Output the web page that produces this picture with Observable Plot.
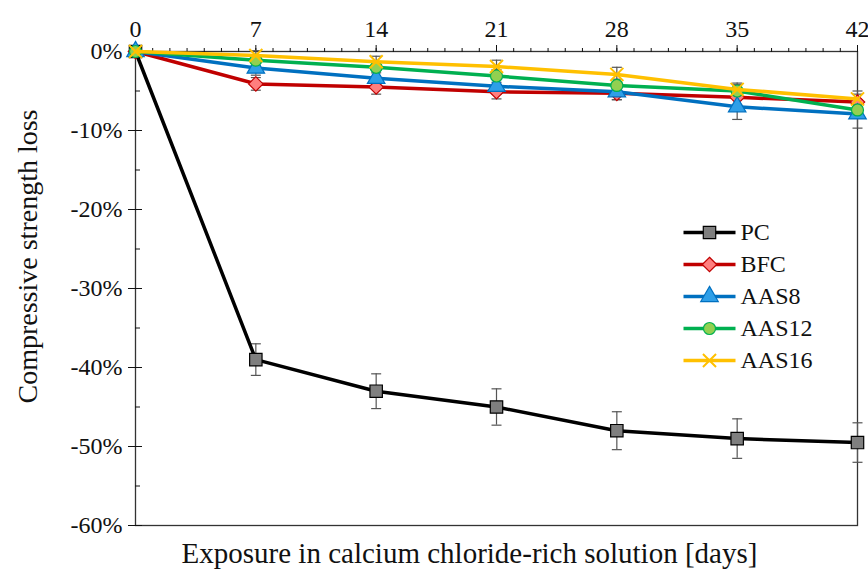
<!DOCTYPE html>
<html><head><meta charset="utf-8">
<script src="https://cdn.jsdelivr.net/npm/d3@7"></script>
<script src="https://cdn.jsdelivr.net/npm/@observablehq/plot@0.6"></script>
<style>
body{margin:0;background:#fff}
#chart svg, #chart svg text { font-family: "Liberation Serif", "Times New Roman", serif !important; }
</style>
</head><body><div id="chart"></div>
<script>
// ---- data ----
const days = [0, 7, 14, 21, 28, 35, 42];
const seriesNames = ["PC", "BFC", "AAS8", "AAS12", "AAS16"];
const pc      = [0, -39.0, -43.0, -45.0, -48.0, -49.0, -49.5];
const pcErr   = [0, 2.0, 2.2, 2.3, 2.4, 2.5, 2.5];
const bfc     = [0, -4.1, -4.5, -5.1, -5.3, -5.8, -6.4];
const bfcErr  = [0, 0.8, 0.9, 0.9, 0.8, 0.9, 1.0];
const aas8    = [0, -2.1, -3.4, -4.4, -5.1, -7.0, -7.9];
const aas8Err = [0, 0.9, 1.0, 1.0, 1.0, 1.6, 1.8];
const aas12   = [0, -1.1, -2.0, -3.1, -4.3, -5.0, -7.4];
const aas12Err= [0, 0.7, 0.7, 0.8, 0.8, 0.8, 1.0];
const aas16   = [0, -0.5, -1.3, -1.9, -2.9, -4.8, -6.0];
const aas16Err= [0, 0.6, 0.7, 0.8, 0.9, 0.8, 1.0];
const xTicks = [0, 7, 14, 21, 28, 35, 42];
const yTicks = [0, -10, -20, -30, -40, -50, -60];
const yMinorTicks = [-5, -15, -25, -35, -45, -55];
const xLabel = "Exposure in calcium chloride-rich solution [days]";
const yLabel = "Compressive strength loss";

// ---- styles ----
const values = [pc, bfc, aas8, aas12, aas16];
const errs = [pcErr, bfcErr, aas8Err, aas12Err, aas16Err];
const lineColors = ["#000000", "#c00000", "#0070c0", "#00b050", "#ffc000"];
const markFill   = ["#7f7f7f", "#ff7f7f", "#2e9fe8", "#92d050", "none"];
const markStroke = ["#000000", "#c00000", "#0070c0", "#00b050", "#ffc000"];
const symbols    = ["square", "diamond2", "triangle", "circle", "times"];
const markR      = [7, 6.5, 6.5, 6, 6];

const hline = {draw(ctx, size) { const r = Math.sqrt(size / Math.PI); ctx.moveTo(-r, 0); ctx.lineTo(r, 0); }};

const rows = [];
seriesNames.forEach((s, i) => days.forEach((d, j) => rows.push({series: s, idx: i, day: d, v: values[i][j], e: errs[i][j]})));

const marks = [
  Plot.frame({stroke: "#333", strokeWidth: 1.3}),
  Plot.axisX({anchor: "top", ticks: d3.range(0, 43), tickSize: 4, tickFormat: () => "", label: null}),
  Plot.axisX({anchor: "top", ticks: xTicks, tickSize: 7, tickPadding: 8, label: null}),
  Plot.axisY({anchor: "left", ticks: yTicks, tickSize: 7, tickPadding: 6, tickFormat: d => `${d}%`, label: null}),
  Plot.axisY({anchor: "left", ticks: yTicks, tickSize: -7, tickFormat: () => "", label: null}),
  Plot.axisY({anchor: "left", ticks: yMinorTicks, tickSize: -5, tickFormat: () => "", label: null}),
];

seriesNames.forEach((s, i) => {
  const r = rows.filter(d => d.series === s);
  const re = r.filter(d => d.e > 0);
  marks.push(
    Plot.ruleX(re, {x: "day", y1: d => d.v - d.e, y2: d => d.v + d.e, stroke: "#555", strokeWidth: 1.2}),
    Plot.dot(re, {x: "day", y: d => d.v + d.e, symbol: hline, r: 5, stroke: "#555", strokeWidth: 1.2}),
    Plot.dot(re, {x: "day", y: d => d.v - d.e, symbol: hline, r: 5, stroke: "#555", strokeWidth: 1.2})
  );
});
seriesNames.forEach((s, i) => {
  const r = rows.filter(d => d.series === s);
  marks.push(
    Plot.line(r, {x: "day", y: "v", stroke: lineColors[i], strokeWidth: 3.5}),
    Plot.dot(r, {x: "day", y: "v", symbol: symbols[i], r: markR[i], fill: markFill[i], stroke: markStroke[i], strokeWidth: symbols[i] === "times" ? 2 : 1.2})
  );
  // legend entry
  const ldx = 574, ldy = 181 + 32 * i;
  marks.push(
    Plot.dot([s], {frameAnchor: "top-left", dx: ldx, dy: ldy, symbol: hline, r: 26, stroke: lineColors[i], strokeWidth: 3.5}),
    Plot.dot([s], {frameAnchor: "top-left", dx: ldx, dy: ldy, symbol: symbols[i], r: markR[i], fill: markFill[i], stroke: markStroke[i], strokeWidth: symbols[i] === "times" ? 2 : 1.2}),
    Plot.text([s], {text: d => d, frameAnchor: "top-left", dx: ldx + 31, dy: ldy, textAnchor: "start", lineAnchor: "middle", fontSize: 24, fill: "#111"})
  );
});
marks.push(
  Plot.text([xLabel], {text: d => d, frameAnchor: "bottom", textAnchor: "middle", dx: -27, dy: 28, lineAnchor: "middle", fontSize: 29, fill: "#111"}),
  Plot.text([yLabel], {text: d => d, frameAnchor: "left", textAnchor: "middle", dx: -107, dy: -32, rotate: -90, lineAnchor: "middle", fontSize: 28, fill: "#111"})
);

const chart = Plot.plot({
  width: 868, height: 576,
  marginLeft: 135, marginRight: 11, marginTop: 51, marginBottom: 51,
  x: {domain: [0, 42]},
  y: {domain: [-60, 0]},
  style: {fontFamily: "'Liberation Serif', 'Times New Roman', serif", fontSize: "24px", color: "#111", background: "#fff", overflow: "visible"},
  marks
});
document.getElementById("chart").append(chart);
</script>
</body></html>
